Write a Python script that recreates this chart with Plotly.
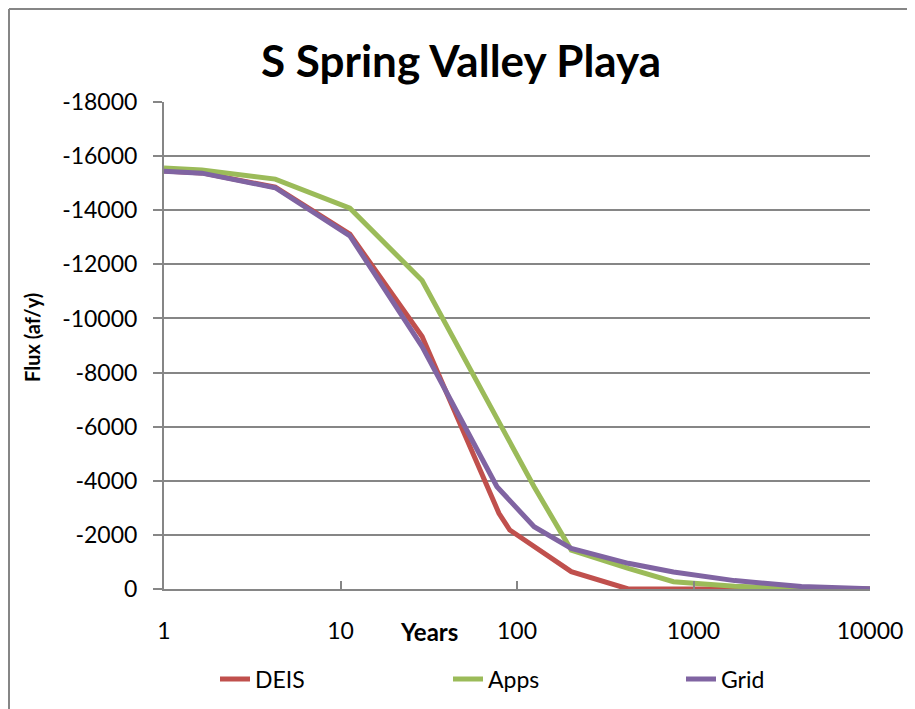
import plotly.graph_objects as go

# values
years = [1, 1.64, 4.27, 11.3, 29, 77, 125, 203, 427, 770, 1710, 4090, 10000]
deis_years = [1, 1.64, 4.27, 11.3, 29, 79, 91, 125, 203, 427, 770, 1710, 4090, 10000]
deis = [-15450, -15380, -14850, -13120, -9330, -2800, -2180, -1560, -640, 0, 0, 0, 0, 0]
apps = [-15560, -15490, -15150, -14075, -11400, -6370, -3780, -1440, -760, -270, -100, -20, 0]
grid = [-15440, -15370, -14830, -13050, -8960, -3780, -2300, -1500, -950, -630, -310, -90, -10]

y_ticks = list(range(0, -18001, -2000))
x_ticks = [1, 10, 100, 1000, 10000]

FONT = "Lato, 'Noto Sans', sans-serif"
GRAY = "#868686"

# the page body adds an 8px margin, so the figure is laid out in page pixels minus 8
OFF = 8
W, H = 915 - OFF, 709 - OFF
L, T = 164 - OFF, 102 - OFF
R, B = W - (870 - OFF), H - (589 - OFF)
PW, PH = W - L - R, H - T - B


def px(x):
    # page pixel -> paper x
    return (x - OFF - L) / PW


def py(y):
    # page pixel -> paper y
    return (H - B - (y - OFF)) / PH


fig = go.Figure()
fig.add_trace(go.Scatter(x=deis_years, y=deis, mode="lines", name="DEIS",
                         line=dict(color="#C0504D", width=5)))
fig.add_trace(go.Scatter(x=years, y=apps, mode="lines", name="Apps",
                         line=dict(color="#9BBB59", width=5)))
fig.add_trace(go.Scatter(x=years, y=grid, mode="lines", name="Grid",
                         line=dict(color="#8064A2", width=5)))

fig.update_layout(
    width=W, height=H,
    margin=dict(l=L, r=R, t=T, b=B, autoexpand=False),
    paper_bgcolor="white", plot_bgcolor="white",
    font=dict(family=FONT, size=23, color="black"),
    title=dict(text="<b>S Spring Valley Playa</b>", x=(461 - OFF) / W, xanchor="center",
               y=1 - (62 - OFF) / H, yanchor="middle",
               font=dict(family=FONT, size=44, color="black")),
    xaxis=dict(
        type="log", range=[0, 4], tickvals=x_ticks, ticktext=[str(v) for v in x_ticks],
        showgrid=False, zeroline=False, showline=True, linecolor=GRAY, linewidth=2,
        ticks="inside", ticklen=8, tickcolor=GRAY, tickwidth=2,
        ticklabelstandoff=20,
    ),
    yaxis=dict(
        range=[0, -18000], tickvals=y_ticks, ticktext=[str(v) for v in y_ticks],
        showgrid=True, gridcolor=GRAY, gridwidth=2, zeroline=False,
        showline=True, linecolor=GRAY, linewidth=2,
        ticks="outside", ticklen=9, tickcolor=GRAY, tickwidth=2,
        ticklabelstandoff=11,
    ),
    legend=dict(orientation="h", x=px(215), xanchor="left", y=py(679), yanchor="middle",
                entrywidth=188, entrywidthmode="pixels", itemwidth=30,
                font=dict(family=FONT, size=23), bgcolor="rgba(0,0,0,0)"),
    showlegend=True,
)

fig.add_annotation(text="<b>Years</b>", xref="paper", yref="paper",
                   x=px(429), y=py(631), xanchor="center", yanchor="middle",
                   showarrow=False, font=dict(family=FONT, size=24))
fig.add_annotation(text="<b>Flux (af/y)</b>", xref="paper", yref="paper",
                   x=px(32), y=py(338), xanchor="center", yanchor="middle",
                   textangle=-90, showarrow=False, font=dict(family=FONT, size=20))

# chart frame (left and top edges visible in the reference)
fig.add_shape(type="line", xref="paper", yref="paper",
              x0=px(OFF + 1), y0=py(709), x1=px(OFF + 1), y1=py(OFF + 1),
              line=dict(color=GRAY, width=2))
fig.add_shape(type="line", xref="paper", yref="paper",
              x0=px(OFF + 1), y0=py(OFF + 1), x1=px(915), y1=py(OFF + 1),
              line=dict(color=GRAY, width=2))

fig.write_html("out.html")
